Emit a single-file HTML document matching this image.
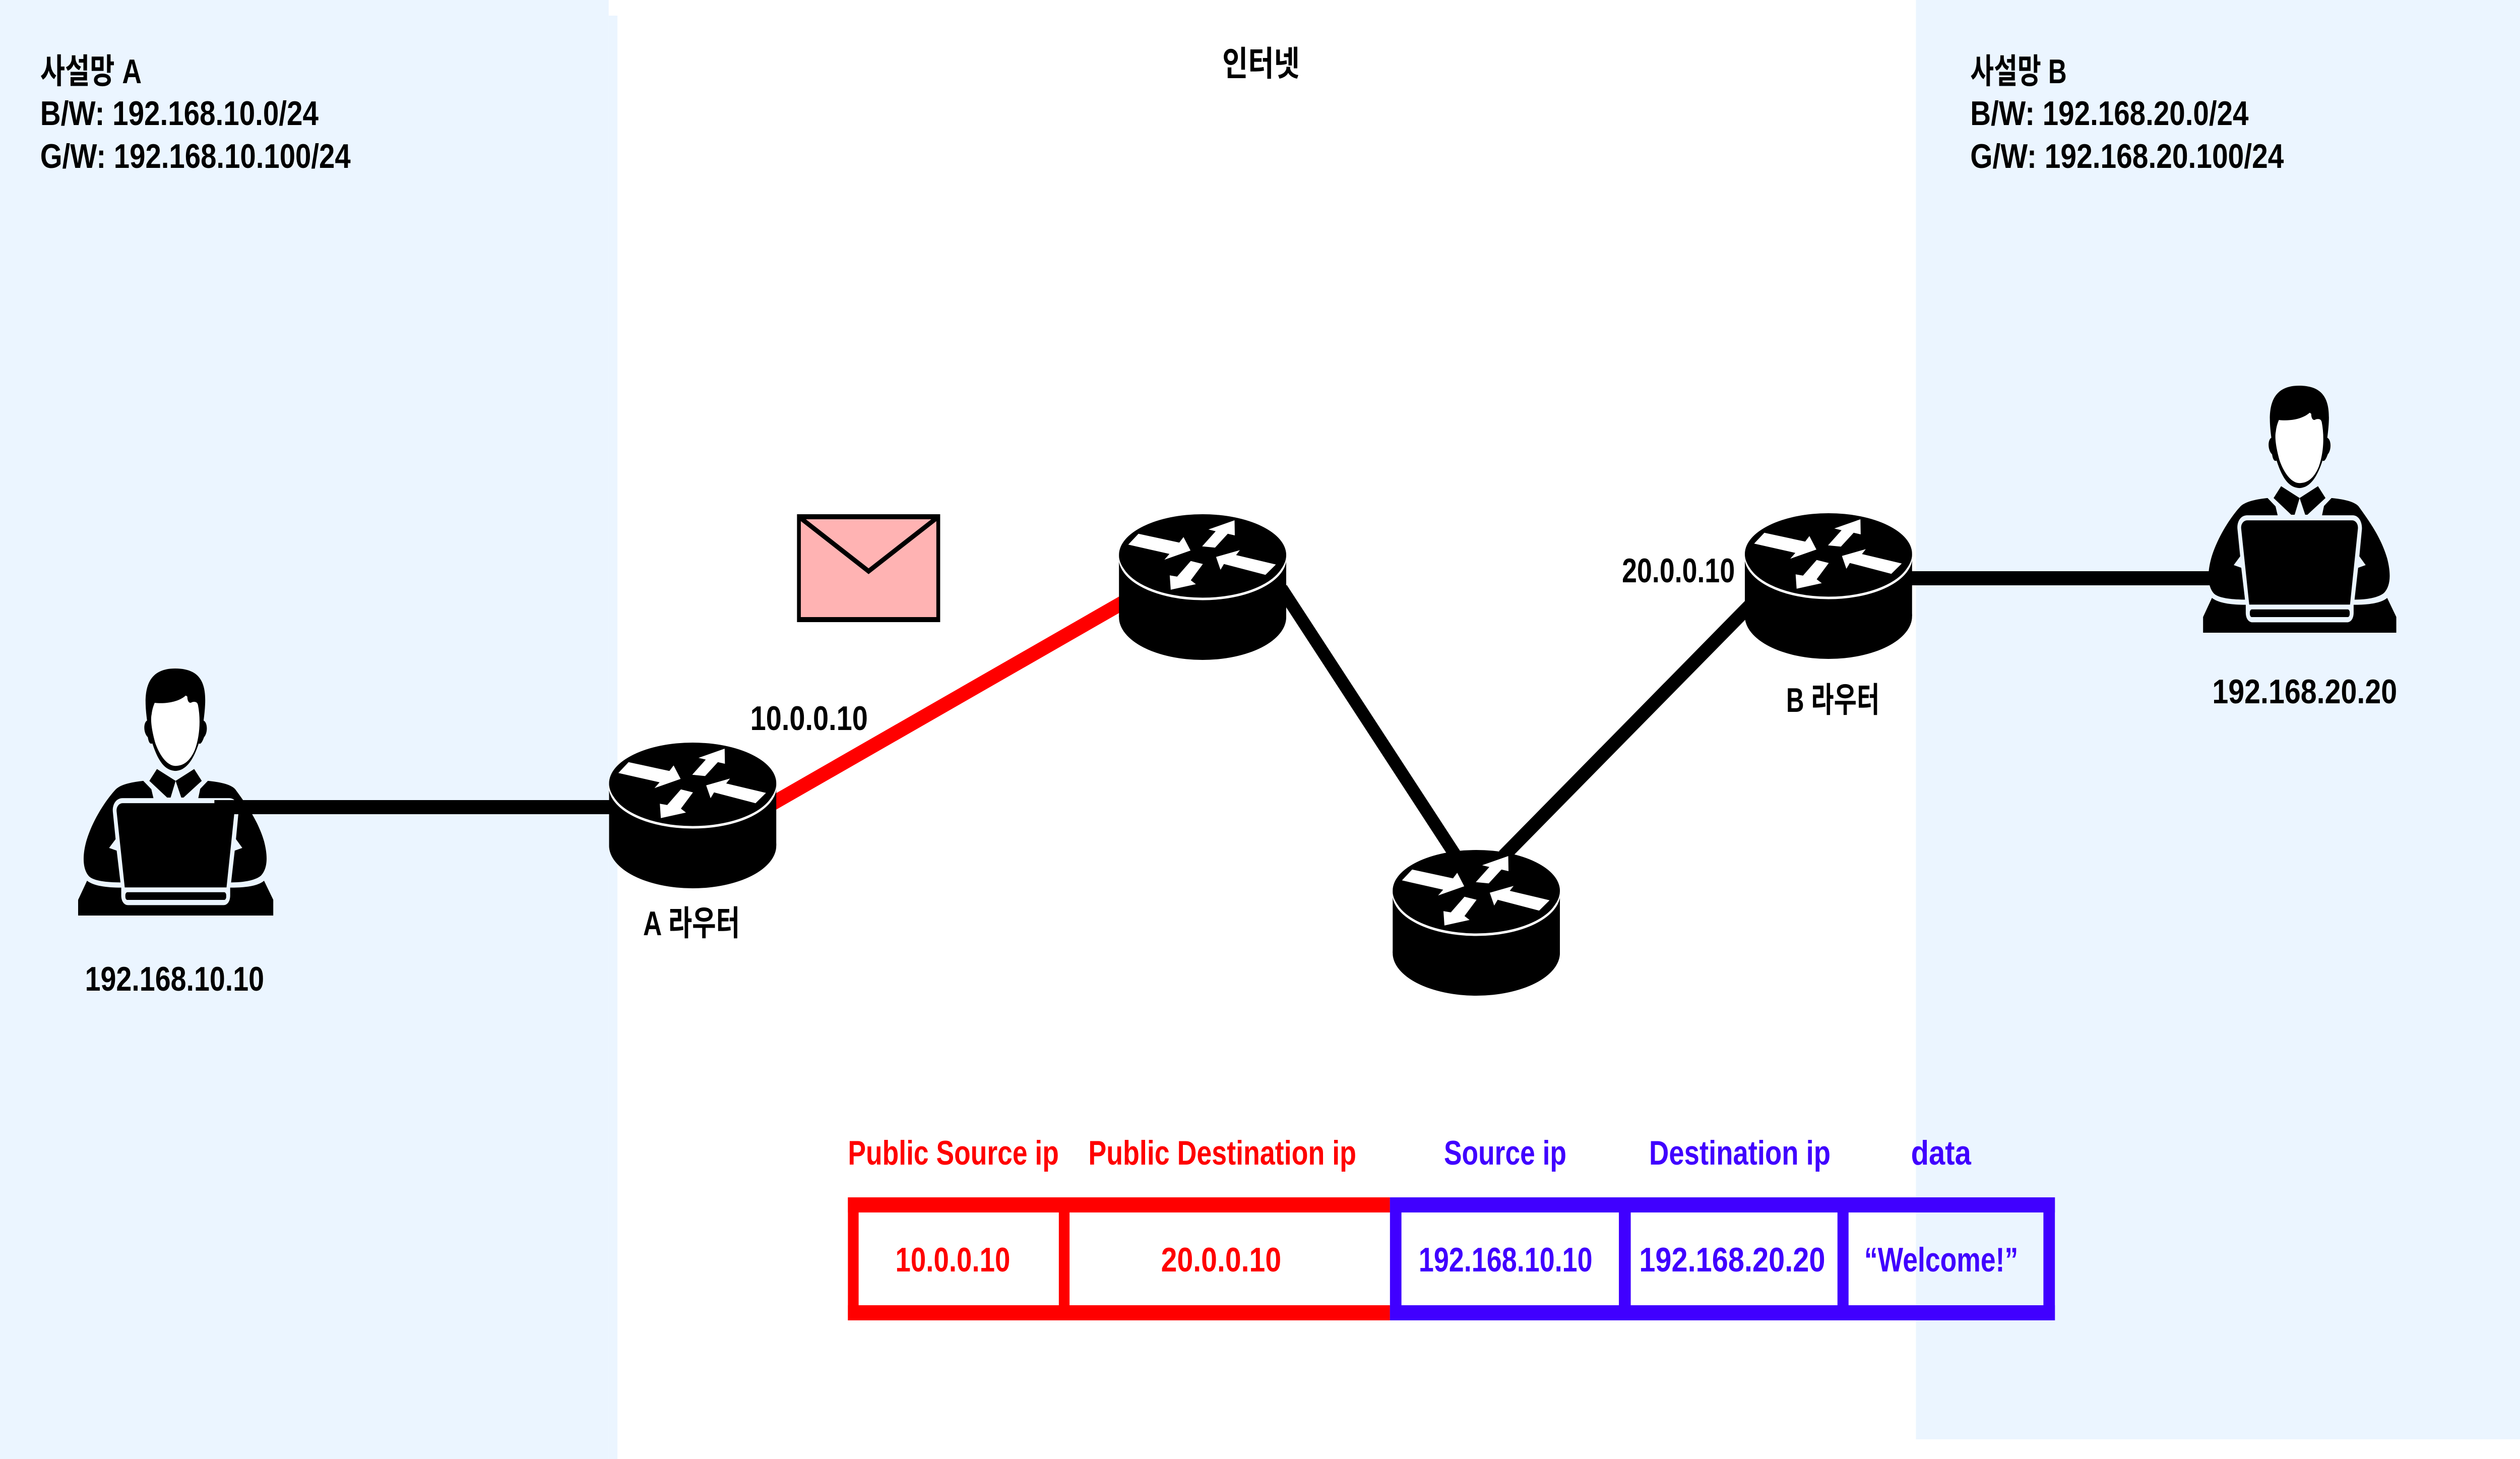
<!DOCTYPE html>
<html><head><meta charset="utf-8"><style>
html,body{margin:0;padding:0;background:#fff;overflow:hidden;width:100%;height:100%;}
svg{display:block;width:100vw;height:100vh;}
text{font-family:"Liberation Sans","Noto Sans CJK KR",sans-serif;font-weight:bold;}
</style></head><body>
<svg viewBox="0 0 6583 2894" preserveAspectRatio="none" xmlns="http://www.w3.org/2000/svg">
<defs>
<symbol id="router" viewBox="0 0 437 292">
  <rect x="0" y="85" width="437" height="122" fill="#000"/>
  <ellipse cx="218.5" cy="207" rx="218.5" ry="85" fill="#000"/>
  <ellipse cx="218.5" cy="89" rx="217" ry="82" fill="none" stroke="#fff" stroke-width="5"/>
  <ellipse cx="218.5" cy="84" rx="218.5" ry="81" fill="#000"/>
  <g fill="#fff">
    <polygon points="24.3,63.3 51,41.7 157.7,59.3 168.7,48.3 187,75 118.7,93.3 132,81.7"/>
    <polygon points="217.3,66.7 252.7,36.7 233.7,33.3 302,15 302.7,45 284.3,41.7 251,69.3"/>
    <polygon points="410,102.7 382.7,123.3 274.3,101.7 265.3,113.3 253.7,87.7 316,74.3 306,84"/>
    <polygon points="219.3,101.7 187.7,134 201,141.7 135.3,152.7 132.7,124.3 152,126.7 187.7,95.7"/>
  </g>
</symbol>
<symbol id="person" viewBox="136 110 1285 1187" preserveAspectRatio="none">
  <path fill="#000" d="M590,360 C570,250 560,110 775,110 C990,110 985,230 962,360 C990,370 990,420 965,440 C950,470 940,475 930,470 C890,560 840,600 777,602 C710,600 665,560 625,470 C610,475 600,465 595,440 C565,420 565,370 590,360 Z"/>
  <path fill="#fff" d="M640,275 C700,280 790,275 845,240 L855,245 C855,270 870,280 885,272 C905,268 920,270 925,285 C945,360 935,440 905,500 C870,560 825,578 777,578 C730,578 680,540 645,470 C625,420 610,360 620,330 C625,300 635,285 640,275 Z"/>
  <path fill="#000" d="M655,593 L778,650 L745,730 L722,730 L605,650 Z"/>
  <path fill="#000" d="M900,593 L950,650 L830,730 L815,730 L778,650 Z"/>
  <path fill="#000" d="M565,650 L618,690 L632,733 L430,733 C380,733 360,770 365,800 L383,930 L340,972 L390,985 L415,1138 C320,1138 240,1130 210,1110 C170,1080 160,1020 190,940 C230,840 320,740 385,690 C420,665 500,655 565,650 Z"/>
  <path fill="#000" d="M990,650 L940,688 L927,733 L1130,733 C1175,733 1195,770 1192,800 L1175,930 L1217,972 L1167,985 L1143,1138 C1240,1138 1310,1125 1340,1105 C1385,1070 1385,1010 1360,940 C1320,840 1240,760 1170,690 C1140,665 1060,655 990,650 Z"/>
  <path fill="#000" d="M430,757 L1127,757 C1150,757 1170,775 1165,800 L1113,1162 L443,1162 L390,800 C385,775 405,757 430,757 Z"/>
  <rect x="447" y="1185" width="664" height="37" rx="14" fill="#000"/>
  <path fill="#000" d="M195,1130 C240,1155 320,1163 420,1163 L420,1200 C420,1230 440,1247 465,1247 L1093,1247 C1118,1247 1137,1230 1137,1200 L1137,1163 C1240,1163 1320,1155 1360,1130 L1421,1222 L1421,1297 L136,1297 L136,1222 Z"/>
</symbol>
</defs>

<rect x="0" y="0" width="1590" height="2894" fill="#EBF5FF"/>
<rect x="1590" y="31" width="23" height="2863" fill="#EBF5FF"/>
<rect x="5005" y="0" width="1578" height="2855" fill="#EBF5FF"/>

<line x1="560" y1="1601" x2="1610" y2="1601" stroke="#000" stroke-width="28"/>
<line x1="1990" y1="1606" x2="2950" y2="1188" stroke="#FF0000" stroke-width="30"/>
<line x1="3350" y1="1170" x2="3805" y2="1700" stroke="#000" stroke-width="30"/>
<line x1="3925" y1="1700" x2="4575" y2="1198" stroke="#000" stroke-width="30"/>
<line x1="4980" y1="1147" x2="5800" y2="1147" stroke="#000" stroke-width="28"/>

<use href="#router" x="1591" y="1470" width="437" height="292"/>
<use href="#router" x="2923" y="1017" width="437" height="292"/>
<use href="#router" x="3638" y="1683" width="437" height="292"/>
<use href="#router" x="4558" y="1015" width="437" height="292"/>

<use href="#person" x="204" y="1326" width="510" height="490"/>
<use href="#person" x="5755" y="765" width="505" height="490"/>

<rect x="2087" y="1025" width="364" height="204" fill="#FFB3B3" stroke="#000" stroke-width="10"/>
<polyline points="2087,1025 2269,1133 2451,1025" fill="none" stroke="#000" stroke-width="10"/>

<g font-size="68" fill="#000">
<text x="105" y="165" textLength="265" lengthAdjust="spacingAndGlyphs">사설망 A</text>
<text x="105" y="248" textLength="727" lengthAdjust="spacingAndGlyphs">B/W: 192.168.10.0/24</text>
<text x="105" y="333" textLength="811" lengthAdjust="spacingAndGlyphs">G/W: 192.168.10.100/24</text>
<text x="5147" y="165" textLength="252" lengthAdjust="spacingAndGlyphs">사설망 B</text>
<text x="5147" y="248" textLength="727" lengthAdjust="spacingAndGlyphs">B/W: 192.168.20.0/24</text>
<text x="5147" y="333" textLength="819" lengthAdjust="spacingAndGlyphs">G/W: 192.168.20.100/24</text>
<text x="3193" y="150" textLength="202" lengthAdjust="spacingAndGlyphs">인터넷</text>
<text x="222" y="1965" textLength="468" lengthAdjust="spacingAndGlyphs">192.168.10.10</text>
<text x="5779" y="1395" textLength="483" lengthAdjust="spacingAndGlyphs">192.168.20.20</text>
<text x="1960" y="1448" textLength="307" lengthAdjust="spacingAndGlyphs">10.0.0.10</text>
<text x="4237" y="1155" textLength="295" lengthAdjust="spacingAndGlyphs">20.0.0.10</text>
<text x="1680" y="1855" textLength="253" lengthAdjust="spacingAndGlyphs">A 라우터</text>
<text x="4666" y="1412" textLength="244" lengthAdjust="spacingAndGlyphs">B 라우터</text>
</g>

<g font-size="68">
<text x="2215" y="2310" fill="#FF0000" textLength="551" lengthAdjust="spacingAndGlyphs">Public Source ip</text>
<text x="2843" y="2310" fill="#FF0000" textLength="700" lengthAdjust="spacingAndGlyphs">Public Destination ip</text>
<text x="3772" y="2310" fill="#4000FF" textLength="320" lengthAdjust="spacingAndGlyphs">Source ip</text>
<text x="4308" y="2310" fill="#4000FF" textLength="474" lengthAdjust="spacingAndGlyphs">Destination ip</text>
<text x="4992" y="2310" fill="#4000FF" textLength="157" lengthAdjust="spacingAndGlyphs">data</text>
</g>

<g fill="#FF0000">
<rect x="2215" y="2375" width="1416" height="30"/>
<rect x="2215" y="2589" width="1416" height="30"/>
<rect x="2215" y="2375" width="28" height="244"/>
<rect x="2766" y="2375" width="28" height="244"/>
</g>
<g fill="#4000FF">
<rect x="3631" y="2375" width="1737" height="30"/>
<rect x="3631" y="2589" width="1737" height="30"/>
<rect x="3631" y="2375" width="30" height="244"/>
<rect x="4229" y="2375" width="31" height="244"/>
<rect x="4800" y="2375" width="29" height="244"/>
<rect x="5338" y="2375" width="30" height="244"/>
</g>

<g font-size="68">
<text x="2339" y="2522" fill="#FF0000" textLength="300" lengthAdjust="spacingAndGlyphs">10.0.0.10</text>
<text x="3033" y="2522" fill="#FF0000" textLength="314" lengthAdjust="spacingAndGlyphs">20.0.0.10</text>
<text x="3706" y="2522" fill="#4000FF" textLength="454" lengthAdjust="spacingAndGlyphs">192.168.10.10</text>
<text x="4282" y="2522" fill="#4000FF" textLength="486" lengthAdjust="spacingAndGlyphs">192.168.20.20</text>
<text x="4870" y="2522" fill="#4000FF" textLength="402" lengthAdjust="spacingAndGlyphs">“Welcome!”</text>
</g>
</svg>
</body></html>
